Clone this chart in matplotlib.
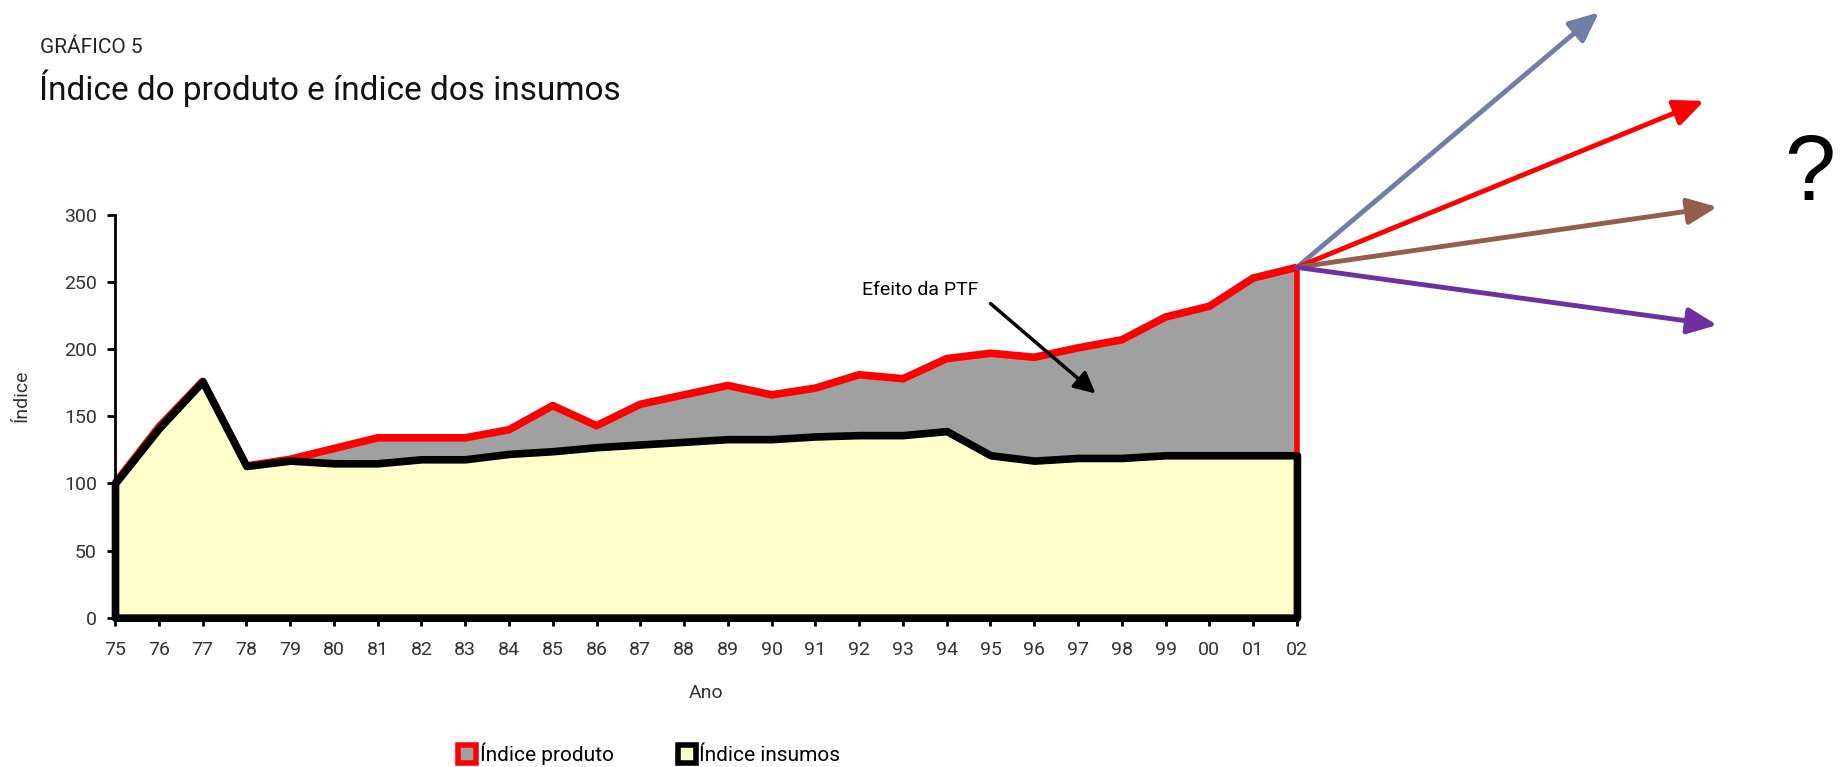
import numpy as np
import matplotlib.pyplot as plt
from matplotlib.lines import Line2D

plt.rcParams['font.family'] = ['Roboto', 'DejaVu Sans']

anos = ['75', '76', '77', '78', '79', '80', '81', '82', '83', '84', '85', '86', '87', '88',
        '89', '90', '91', '92', '93', '94', '95', '96', '97', '98', '99', '00', '01', '02']
produto = [100, 142, 176, 113, 118, 126, 134, 134, 134, 140, 158, 143, 159, 166,
           173, 166, 171, 181, 178, 193, 197, 194, 201, 207, 224, 232, 253, 261]
insumos = [100, 141, 176, 113, 117, 115, 115, 118, 118, 122, 124, 127, 129, 131,
           133, 133, 135, 136, 136, 139, 121, 117, 119, 119, 121, 121, 121, 121]

# cenarios apos 2002 (setas), pontas em unidades do grafico
seta_x = [33.9, 36.3, 36.6, 36.6]
seta_y = [451, 385, 306, 218]
seta_cores = ['#717fa6', '#ff0000', '#935e4b', '#7030a0']

x = np.arange(len(anos))

fig = plt.figure(figsize=(18.43, 7.67), dpi=100)
ax = fig.add_axes([0.0624, 0.1947, 0.6413, 0.525])

# area do produto (cinza) com contorno vermelho
ax.fill_between(x, produto, 0, facecolor='#a0a0a0', edgecolor='none', zorder=2)
ax.plot(x, produto, color='red', lw=5.5, solid_joinstyle='round', solid_capstyle='butt',
        clip_on=False, zorder=2)
ax.vlines(x[-1], insumos[-1], produto[-1], color='red', lw=4, clip_on=False, zorder=2)
# area dos insumos (amarelo) com contorno preto
ax.fill_between(x, insumos, 0, facecolor='#ffffcc', edgecolor='black', linewidth=5.5,
                joinstyle='round', clip_on=False, zorder=3)

ax.set_xlim(0, len(anos) - 1)
ax.set_ylim(0, 300)
ax.set_xticks(x)
ax.set_xticklabels(anos)
ax.set_yticks(np.arange(0, 301, 50))
ax.tick_params(direction='out', length=6, width=2, labelsize=14, labelcolor='#333333')
ax.tick_params(axis='x', pad=11)
ax.tick_params(axis='y', pad=7)
for s in ['top', 'right']:
    ax.spines[s].set_visible(False)
ax.spines['left'].set_linewidth(2)
ax.spines['bottom'].set_linewidth(2)

ax.set_ylabel('Índice', fontsize=14, color='#333333')
ax.yaxis.set_label_coords(-0.072, 0.55)
ax.set_xlabel('Ano', fontsize=14, color='#333333')
ax.xaxis.set_label_coords(0.5, -0.165)

ax.text(18.4, 244, 'Efeito da PTF', ha='center', va='center', fontsize=14, zorder=5)
ax.annotate('', xy=(22.4, 167), xytext=(20.0, 234),
            arrowprops=dict(arrowstyle='-|>', color='black', lw=2.5, mutation_scale=32,
                            shrinkA=0, shrinkB=0), zorder=5)

for sx, sy, c in zip(seta_x, seta_y, seta_cores):
    ax.annotate('', xy=(sx, sy), xytext=(27, produto[-1]), annotation_clip=False,
                arrowprops=dict(arrowstyle='-|>,head_length=0.9,head_width=0.4', color=c,
                                lw=3.5, mutation_scale=20, shrinkA=0, shrinkB=0))

fig.text(1810 / 1843, 1 - 176 / 767, '?', fontsize=66, ha='center', va='center',
         family='Liberation Sans')

fig.text(40 / 1843, 1 - 53 / 767, 'GRÁFICO 5', fontsize=15, va='baseline', color='#222222')
fig.text(39 / 1843, 1 - 100 / 767, 'Índice do produto e índice dos insumos', fontsize=24,
         va='baseline', color='#111111')

handles = [
    Line2D([], [], marker='s', ls='none', markersize=13, markerfacecolor='#a0a0a0',
           markeredgecolor='red', markeredgewidth=4),
    Line2D([], [], marker='s', ls='none', markersize=13, markerfacecolor='#ffffcc',
           markeredgecolor='black', markeredgewidth=4),
]
fig.legend(handles, ['Índice produto', 'Índice insumos'], loc='center',
           bbox_to_anchor=(0.352, 0.017), ncol=2, frameon=False, fontsize=15,
           handletextpad=0.1, columnspacing=3.0, handlelength=1)

fig.savefig('out.png', dpi=100)
